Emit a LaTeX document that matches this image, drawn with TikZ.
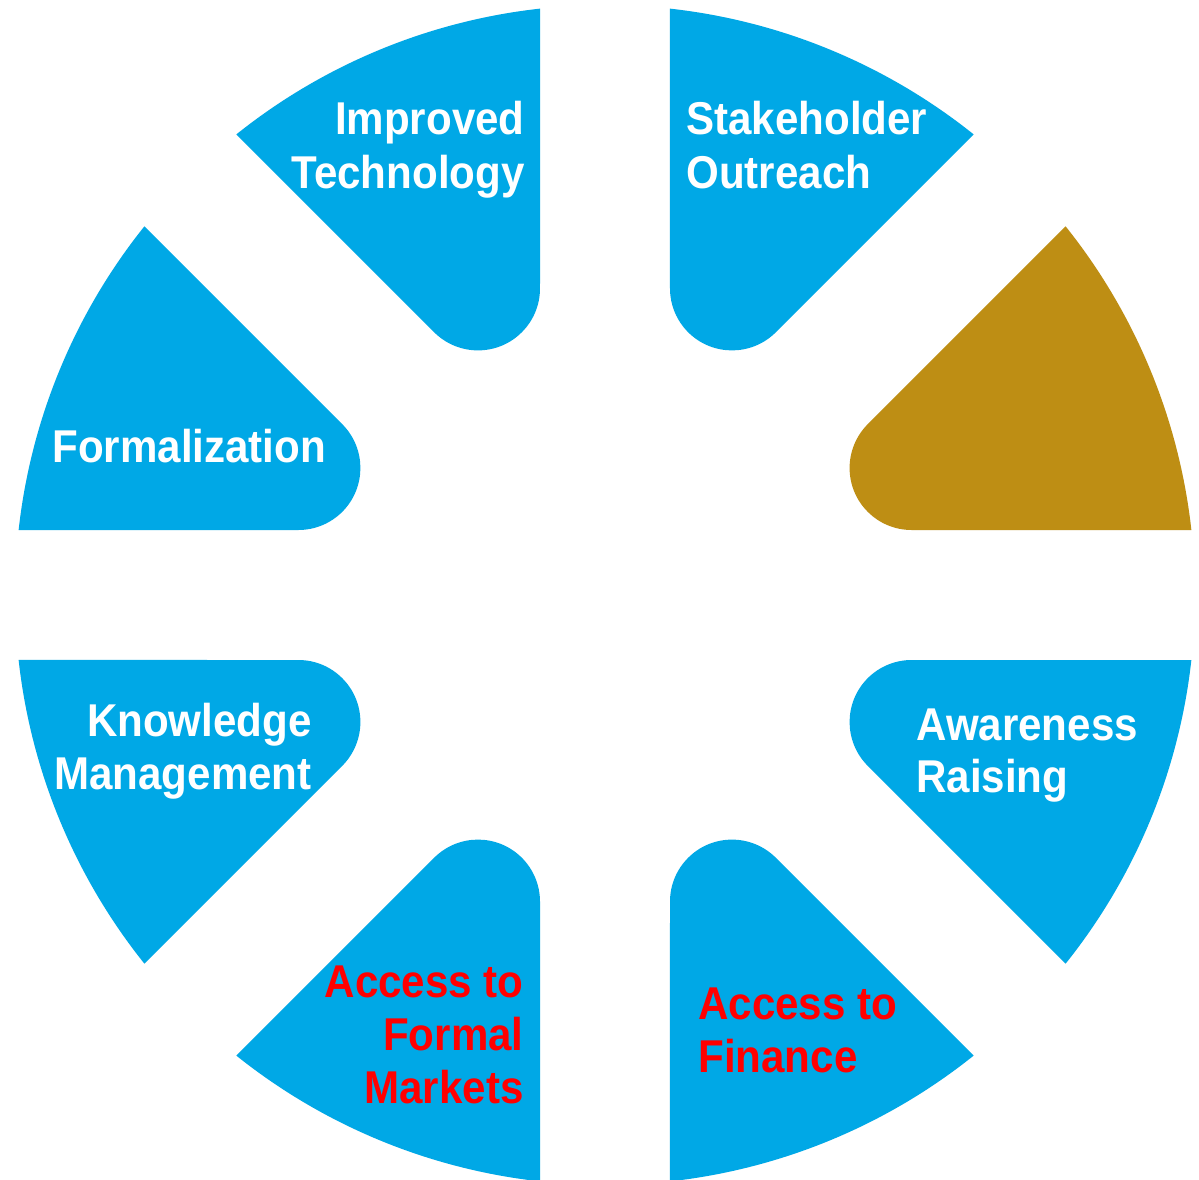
\documentclass[tikz,border=0pt]{standalone}
\usepackage{fontspec}
\newfontfamily\lblfont{Liberation Sans}[FakeStretch=0.915]
\definecolor{wblue}{RGB}{0,168,230}
\definecolor{wgold}{RGB}{190,142,20}
\definecolor{wred}{RGB}{255,0,0}
\tikzset{
  lbl/.style={inner sep=0pt, font=\lblfont\bfseries\fontsize{23}{26.5}\selectfont, text=white},
  redlbl/.style={lbl, text=wred}
}
\newcommand\wedgeat[2]{%
  \fill[#2, rotate=#1] (6.325:590) -- (306.6,65)
    arc[start angle=-90, end angle=-225, radius=62]
    -- (38.675:590) arc[start angle=38.675, end angle=6.325, radius=590] -- cycle;}
\begin{document}
\begin{tikzpicture}[x=0.5pt,y=0.5pt]
  \clip (-605,-584) rectangle (594,595);
  \fill[white] (-605,-584) rectangle (594,595);
  \wedgeat{0}{wgold}
  \wedgeat{45}{wblue}
  \wedgeat{90}{wblue}
  \wedgeat{135}{wblue}
  \wedgeat{180}{wblue}
  \wedgeat{225}{wblue}
  \wedgeat{270}{wblue}
  \wedgeat{315}{wblue}
  % labels
  \node[lbl, anchor=base east] (imp1) at (-80,460) {Improved};
  \node[lbl, anchor=base east] (imp2) at (-80,407) {Technology};
  \node[lbl, anchor=base west] (sta1) at (81,460) {Stakeholder};
  \node[lbl, anchor=base west] (sta2) at (81,407) {Outreach};
  \node[lbl, anchor=base west] (for1) at (-553,133) {Formalization};
  \node[lbl, anchor=base east] (kno1) at (-293,-141) {Knowledge};
  \node[lbl, anchor=base east] (kno2) at (-293,-194) {Management};
  \node[lbl, anchor=base west] (awa1) at (311,-145) {Awareness};
  \node[lbl, anchor=base west] (awa2) at (311,-197) {Raising};
  \node[redlbl, anchor=base east] (mkt1) at (-81,-402) {Access to};
  \node[redlbl, anchor=base east] (mkt2) at (-81,-455) {Formal};
  \node[redlbl, anchor=base east] (mkt3) at (-81,-508) {Markets};
  \node[redlbl, anchor=base west] (fin1) at (93,-424) {Access to};
  \node[redlbl, anchor=base west] (fin2) at (93,-477) {Finance};
\end{tikzpicture}
\end{document}
